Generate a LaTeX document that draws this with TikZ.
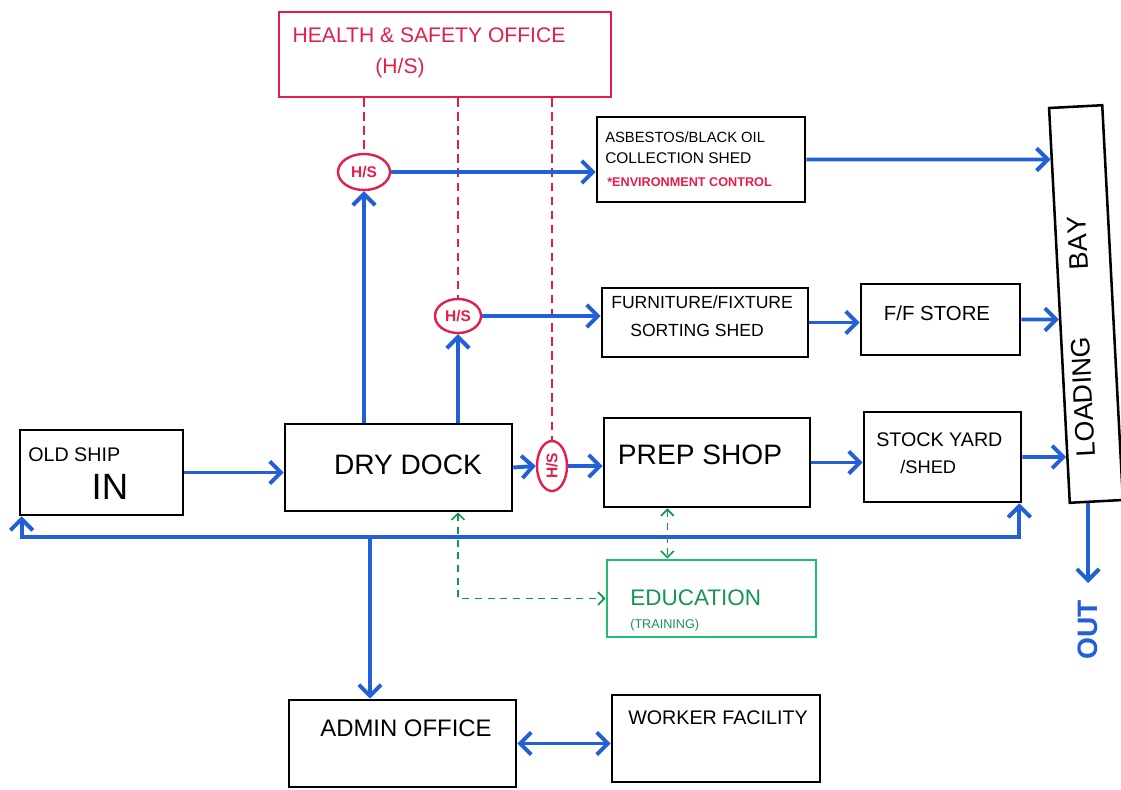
\documentclass[tikz,border=0pt]{standalone}
\usepackage{fontspec}
\setmainfont{Liberation Sans}
\usetikzlibrary{arrows.meta,shapes.geometric,calc,fit}
\definecolor{flowblue}{RGB}{35,95,215}
\definecolor{hsred}{RGB}{228,30,72}
\definecolor{eduline}{RGB}{30,190,110}
\definecolor{edutext}{RGB}{20,150,80}
\begin{document}
\begin{tikzpicture}[x=0.025cm,y=-0.025cm,
  box/.style={draw=black, line width=1.8pt, inner sep=0pt},
  hsbox/.style={draw=hsred, line width=1.6pt, inner sep=0pt},
  edubox/.style={draw=eduline, line width=2pt, inner sep=0pt},
  lbl/.style={inner sep=0pt},
  lbll/.style={inner sep=0pt, anchor=west},
  flow/.style={draw=flowblue, line width=2.8pt, -{Straight Barb[length=2.8mm,width=5.6mm]}},
  flowboth/.style={draw=flowblue, line width=2.8pt, {Straight Barb[length=2.8mm,width=5.6mm]}-{Straight Barb[length=2.8mm,width=5.6mm]}},
  hsline/.style={draw=hsred, line width=1.3pt, dash pattern=on 6pt off 4pt},
  hsnode/.style={ellipse, draw=hsred, line width=1.7pt, text=hsred, inner sep=0pt, font=\fontsize{11}{13}\selectfont\bfseries},
  eduflow/.style={draw=edutext, line width=1.2pt, dash pattern=on 5pt off 4pt, {Straight Barb[length=1.6mm,width=3.2mm]}-{Straight Barb[length=1.6mm,width=3.2mm]}},
]
\useasboundingbox (0,0) rectangle (1121,790);

% boxes
\node[hsbox, fit={(279,12) (611,97)}] (hs) {};
\node[box, fit={(597,117) (805,202)}] (asb) {};
\node[box, fit={(602,288) (808,357)}] (furn) {};
\node[box, fit={(861,284) (1020,355)}] (ffs) {};
\node[box, fit={(20,430) (183,515)}] (ship) {};
\node[box, fit={(285,424) (512,511)}] (dry) {};
\node[box, fit={(604,418) (810,507)}] (prep) {};
\node[box, fit={(864,412) (1021,502)}] (stock) {};
\node[edubox, fit={(607,560) (816,637)}] (edu) {};
\node[box, fit={(289,700) (516,787)}] (admin) {};
\node[box, fit={(612,695) (820,782)}] (worker) {};
\node[box, rotate=93, minimum width=9.88cm, minimum height=1.33cm] (bay) at (1086,304) {};

% texts
\node[lbl, text=hsred, font=\fontsize{15}{18}\selectfont] (hst1) at (429,35) {HEALTH \& SAFETY OFFICE};
\node[lbl, text=hsred, font=\fontsize{15}{18}\selectfont] (hst2) at (400,68) {(H/S)};
\node[lbll, font=\fontsize{10.5}{13}\selectfont] (asbt1) at (605,137) {ASBESTOS/BLACK OIL};
\node[lbll, font=\fontsize{11}{13}\selectfont] (asbt2) at (605,158) {COLLECTION SHED};
\node[lbll, text=hsred, font=\fontsize{9}{11}\selectfont\bfseries] (asbt3) at (607,182) {*ENVIRONMENT CONTROL};
\node[lbll, font=\fontsize{12.5}{15}\selectfont] (furnt1) at (611,302) {FURNITURE/FIXTURE};
\node[lbll, font=\fontsize{12.5}{15}\selectfont] (furnt2) at (630,330) {SORTING SHED};
\node[lbl, font=\fontsize{14.5}{17}\selectfont] (ffst) at (937,313) {F/F STORE};
\node[lbll, font=\fontsize{14}{17}\selectfont] (shipt1) at (28,455) {OLD SHIP};
\node[lbl, font=\fontsize{26}{30}\selectfont] (shipt2) at (110,487) {IN};
\node[lbl, font=\fontsize{20}{24}\selectfont] (dryt) at (408,465) {DRY DOCK};
\node[lbl, font=\fontsize{20}{24}\selectfont] (prept) at (700,455) {PREP SHOP};
\node[lbll, font=\fontsize{14}{17}\selectfont] (stockt1) at (876,440) {STOCK YARD};
\node[lbll, font=\fontsize{13}{16}\selectfont] (stockt2) at (900,467) {/SHED};
\node[lbll, text=edutext, font=\fontsize{16}{19}\selectfont] (edut1) at (630,598) {EDUCATION};
\node[lbll, text=edutext, font=\fontsize{9}{11}\selectfont] (edut2) at (630,625) {(TRAINING)};
\node[lbl, font=\fontsize{17}{20}\selectfont] (admint) at (406,728) {ADMIN OFFICE};
\node[lbl, font=\fontsize{14}{17}\selectfont] (workert) at (718,718) {WORKER FACILITY};
\node[lbl, rotate=93, font=\fontsize{19}{22}\selectfont\addfontfeatures{Kerning=Off}] (loadt) at (1083,397) {LOADING};
\node[lbl, rotate=93, font=\fontsize{19}{22}\selectfont\addfontfeatures{Kerning=Off}] (bayt) at (1078,243) {BAY};

% H/S check points
\node[hsnode, minimum width=1.3cm, minimum height=0.9cm] (c1) at (364,172) {H/S};
\node[hsnode, minimum width=1.15cm, minimum height=0.85cm] (c2) at (458,316) {H/S};
\node[hsnode, rotate=90, minimum width=1.25cm, minimum height=0.75cm] (c3) at (552,466) {H/S};

% red dashed links
\draw[hsline] (c1 |- hs.south) -- (c1);
\draw[hsline] (c2 |- hs.south) -- (c2);
\draw[hsline] (c3 |- hs.south) -- (c3);

% helper points for horizontal arrows into the slanted loading bay
\coordinate (h1) at ($(asb.east)+(100,0)$);
\coordinate (h2) at ($(ffs.east)+(20,0)$);
\coordinate (h3) at ($(stock.east)+(20,0)$);

% main flow
\draw[flow] (ship.east) -- (ship.east -| dry.west);
\draw[flow] (dry.east) -- (c3.north);
\draw[flow] (c3.south) -- (c3.south -| prep.west);
\draw[flow] (prep.east) -- (prep.east -| stock.west);
\draw[flow] (stock.east) -- (intersection of bay.north west--bay.north east and stock.east--h3);
\draw[flow] (c1 |- dry.north) -- (c1);
\draw[flow] (c2 |- dry.north) -- (c2);
\draw[flow] (c1.east) -- (c1.east -| asb.west);
\draw[flow] (asb.east) -- (intersection of bay.north west--bay.north east and asb.east--h1);
\draw[flow] (c2.east) -- (c2.east -| furn.west);
\draw[flow] (furn.east) -- (furn.east -| ffs.west);
\draw[flow] (ffs.east) -- (intersection of bay.north west--bay.north east and ffs.east--h2);

% return / admin branch
\coordinate (j) at (370,537);
\draw[flow] (j) -| ([xshift=2pt]ship.south west);
\draw[flow] (j) -| ([xshift=-2pt]stock.south east);
\draw[flow] (j) -- (j |- admin.north);
\draw[flowboth] (admin.east) -- (admin.east -| worker.west);

% out
\coordinate (outend) at (1088,583);
\draw[flow] (outend |- bay.west) -- (outend);
\node[lbl, rotate=90, text=flowblue, font=\fontsize{20}{24}\selectfont\bfseries] (outt) at (1088,630) {OUT};

% education links
\draw[eduflow] (c2 |- dry.south) -- (c2 |- edu.west) -- (edu.west);
\coordinate (pe) at ($(prep.south west)!0.31!(prep.south east)$);
\draw[eduflow] (pe) -- (pe |- edu.north);
\end{tikzpicture}
\end{document}
